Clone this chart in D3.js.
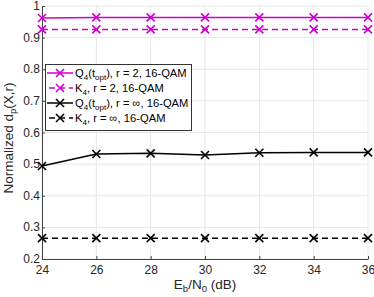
<!DOCTYPE html>
<html>
<head>
<meta charset="utf-8">
<script src="https://cdn.jsdelivr.net/npm/d3@7"></script>
<style>
  body { margin: 0; background: #fff; }
  svg { display: block; font-family: "Liberation Sans", Arial, sans-serif; }
</style>
</head>
<body>
<div id="box"></div>
<script>
// data
var snr = [24, 26, 28, 30, 32, 34, 36];
var q4r2 = [0.962, 0.964, 0.964, 0.964, 0.964, 0.964, 0.964];
var k4r2 = [0.926, 0.926, 0.926, 0.926, 0.926, 0.926, 0.926];
var q4inf = [0.494, 0.532, 0.534, 0.529, 0.536, 0.537, 0.537];
var k4inf = [0.266, 0.266, 0.266, 0.266, 0.266, 0.266, 0.266];
var xTicks = [24, 26, 28, 30, 32, 34, 36];
var yTicks = [0.2, 0.3, 0.4, 0.5, 0.6, 0.7, 0.8, 0.9, 1];

var series = [
    { vals: q4r2, color: "#cc00cc", dash: null, r: "2" },
    { vals: k4r2, color: "#cc00cc", dash: "6,4", r: "2", k: true },
    { vals: q4inf, color: "#000", dash: null, r: "\u221e" },
    { vals: k4inf, color: "#000", dash: "6,4", r: "\u221e", k: true }
];

var width = 374, height = 297;
var margin = { left: 42, right: 6, top: 6, bottom: 38 };

var svg = d3.select("#box").append("svg")
    .attr("width", width)
    .attr("height", height);

var x = d3.scaleLinear().domain([24, 36]).range([margin.left, width - margin.right]);
var y = d3.scaleLinear().domain([0.2, 1]).range([height - margin.bottom, margin.top]);

// grid
svg.append("g").selectAll("line.vg")
    .data(xTicks).enter().append("line")
    .attr("x1", function(d) { return x(d); }).attr("x2", function(d) { return x(d); })
    .attr("y1", y(0.2)).attr("y2", y(1))
    .attr("stroke", "#e6e6e6").attr("stroke-width", 1);
svg.append("g").selectAll("line.hg")
    .data(yTicks).enter().append("line")
    .attr("y1", function(d) { return y(d); }).attr("y2", function(d) { return y(d); })
    .attr("x1", x(24)).attr("x2", x(36))
    .attr("stroke", "#e6e6e6").attr("stroke-width", 1);

// axes
var xAxis = svg.append("g")
    .attr("transform", "translate(0," + y(0.2) + ")")
    .call(d3.axisBottom(x).tickValues(xTicks).tickSizeInner(-3).tickSizeOuter(0).tickPadding(6));
var yAxis = svg.append("g")
    .attr("transform", "translate(" + x(24) + ",0)")
    .call(d3.axisLeft(y).tickValues(yTicks).tickSizeInner(-3).tickSizeOuter(0).tickPadding(2)
        .tickFormat(function(d) { return d === 1 ? "1" : d3.format(".1f")(d); }));
[xAxis, yAxis].forEach(function(a) {
    a.select(".domain").attr("stroke", "#444");
    a.selectAll(".tick line").attr("stroke", "#444");
    a.selectAll(".tick text").attr("fill", "#262626").attr("font-size", 12)
        .attr("font-family", "Liberation Sans, Arial, sans-serif");
});
yAxis.selectAll(".tick text").attr("dy", "0.3em");

// lines and markers
var line = d3.line()
    .x(function(d, i) { return x(snr[i]); })
    .y(function(d) { return y(d); });

function cross(g, cx, cy, color) {
    var s = 4;
    g.append("path")
        .attr("d", "M" + (cx - s) + "," + (cy - s) + "L" + (cx + s) + "," + (cy + s) +
            "M" + (cx - s) + "," + (cy + s) + "L" + (cx + s) + "," + (cy - s))
        .attr("stroke", color).attr("stroke-width", 1.6).attr("fill", "none");
}

series.forEach(function(s) {
    svg.append("path")
        .datum(s.vals)
        .attr("d", line)
        .attr("fill", "none")
        .attr("stroke", s.color)
        .attr("stroke-width", 1.5)
        .attr("stroke-dasharray", s.dash);
    s.vals.forEach(function(v, i) {
        cross(svg, x(snr[i]), y(v), s.color);
    });
});

// legend
var lg = svg.append("g");
lg.append("rect")
    .attr("x", 45.5).attr("y", 64.5)
    .attr("width", 146).attr("height", 66)
    .attr("fill", "#fff").attr("stroke", "#333").attr("stroke-width", 1);

series.forEach(function(s, i) {
    var ly = 73 + i * 15;
    lg.append("line")
        .attr("x1", s.dash ? 49 : 47).attr("x2", 73)
        .attr("y1", ly).attr("y2", ly)
        .attr("stroke", s.color).attr("stroke-width", 1.5)
        .attr("stroke-dasharray", s.dash ? "6,4" : null);
    cross(lg, 60, ly, s.color);
    var t = lg.append("text")
        .attr("x", 75).attr("y", ly + 3.5)
        .attr("font-size", 11.2).attr("fill", "#000");
    t.append("tspan").text(s.k ? "K" : "Q");
    t.append("tspan").attr("font-size", 8).attr("dy", 3).text("4");
    if (s.k) {
        t.append("tspan").attr("dy", -3).text(", r = " + s.r + ", 16-QAM");
    } else {
        t.append("tspan").attr("dy", -3).text("(t");
        t.append("tspan").attr("font-size", 8).attr("dy", 3).text("opt");
        t.append("tspan").attr("dy", -3).text("), r = " + s.r + ", 16-QAM");
    }
});

// axis labels
var xl = svg.append("text")
    .attr("x", x(30)).attr("y", 289)
    .attr("text-anchor", "middle").attr("font-size", 13.5).attr("fill", "#262626");
xl.append("tspan").text("E");
xl.append("tspan").attr("font-size", 9.5).attr("dy", 3).text("b");
xl.append("tspan").attr("dy", -3).text("/N");
xl.append("tspan").attr("font-size", 9.5).attr("dy", 3).text("0");
xl.append("tspan").attr("dy", -3).text(" (dB)");

var yl = svg.append("text")
    .attr("transform", "translate(13,138) rotate(-90)")
    .attr("text-anchor", "middle").attr("font-size", 13.5).attr("fill", "#262626");
yl.append("tspan").text("Normalized d");
yl.append("tspan").attr("font-size", 9.5).attr("dy", 3).text("p");
yl.append("tspan").attr("dy", -3).text("(X,r)");
</script>
</body>
</html>
